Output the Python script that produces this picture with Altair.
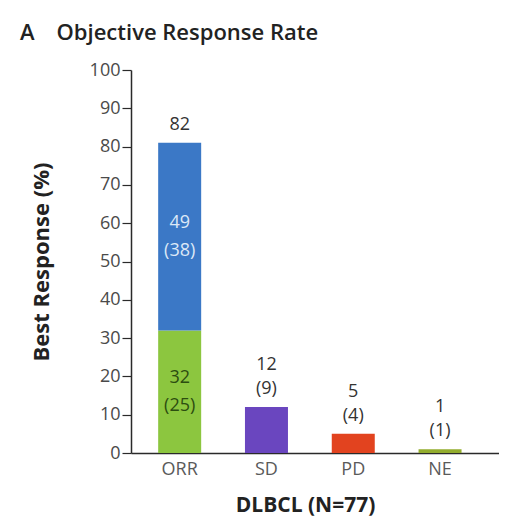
import altair as alt
import pandas as pd

# ---- data ----
categories = ["ORR", "SD", "PD", "NE"]
seg_category = ["ORR", "ORR", "SD", "PD", "NE"]
seg_name = ["CR", "PR", "SD", "PD", "NE"]
seg_value = [32, 49, 12, 5, 1]
seg_order = [0, 1, 0, 0, 0]
seg_colors = ["#8cc63f", "#3b78c6", "#6a46bf", "#e2431f", "#93ad2e"]

# labels above each bar (upper line, lower line)
top_upper = ["", "12", "5", "1"]
top_lower = ["82", "(9)", "(4)", "(1)"]
# labels inside the ORR segments
in_upper = ["32", "49"]
in_lower = ["(25)", "(38)"]
in_color = ["#2c4d10", "#dce8f7"]

bars = pd.DataFrame({"cat": seg_category, "seg": seg_name, "val": seg_value, "ord": seg_order})
totals = bars.groupby("cat", sort=False)["val"].sum().reindex(categories)
top = pd.DataFrame({"cat": categories, "y": totals.values, "up": top_upper, "low": top_lower})

orr = bars[bars["cat"] == "ORR"].reset_index(drop=True)
mids = (orr["val"].cumsum() - orr["val"] / 2).tolist()
inside = pd.DataFrame({"cat": ["ORR", "ORR"], "y": mids, "up": in_upper, "low": in_lower, "col": in_color})

FONT = "Open Sans"
INK = "#2a2a2a"

xscale = alt.Scale(domain=categories, paddingInner=0.5, paddingOuter=0.37, align=0.42)
yscale = alt.Scale(domain=[0, 100], nice=False)

xaxis = alt.Axis(title="DLBCL (N=77)", labelAngle=0, ticks=False, domainColor=INK,
                 domainWidth=1.5, labelFontSize=18, labelColor="#5a5a5a", labelFont=FONT,
                 labelPadding=7, titleFont=FONT, titleFontSize=21, titleFontWeight="bold",
                 titleColor="#222222", titleX=174, titleY=58, titleBaseline="alphabetic")
yaxis = alt.Axis(title="Best Response (%)", values=list(range(0, 101, 10)), grid=False,
                 tickSize=9, tickColor=INK, tickWidth=1.2, domainColor=INK,
                 domainWidth=1.5, labelFontSize=18, labelColor="#4a4a4a", labelFont=FONT,
                 labelPadding=2, labelOverlap=False, titleFont=FONT, titleFontSize=22,
                 titleFontWeight="bold", titleColor="#222222", titlePadding=36)

def X():
    return alt.X("cat:N", scale=xscale, sort=categories, axis=xaxis)

bar = alt.Chart(bars).mark_bar(size=43).encode(
    x=X(),
    y=alt.Y("val:Q", stack="zero", scale=yscale, axis=yaxis),
    color=alt.Color("seg:N", scale=alt.Scale(domain=seg_name, range=seg_colors), legend=None),
    order=alt.Order("ord:Q"),
)

def txt(df, field, dy, color=None):
    enc = dict(x=X(), y=alt.Y("y:Q", scale=yscale, axis=yaxis), text=f"{field}:N")
    mark_kw = dict(font=FONT, fontSize=18, baseline="middle", dy=dy)
    if color is None:
        mark_kw["color"] = "#333333"
    else:
        enc["color"] = alt.Color("col:N", scale=None)
    return alt.Chart(df).mark_text(**mark_kw).encode(**enc)

layers = [
    bar,
    txt(top, "up", -42),
    txt(top, "low", -18),
    txt(inside, "up", -14, color=True),
    txt(inside, "low", 14, color=True),
]

chart = alt.layer(*layers).properties(
    width=368, height=383,
    title=alt.TitleParams("A\u2003Objective Response Rate", anchor="start", frame="group", dx=-111,
                          offset=16, font=FONT, fontSize=22, fontWeight=600, color="#222222"),
    autosize=alt.AutoSizeParams(type="none"),
    padding={"left": 123, "top": 62, "right": 0, "bottom": 63},
).configure_view(stroke=None)

chart.save("out.html", embed_options={"renderer": "svg", "actions": False})
